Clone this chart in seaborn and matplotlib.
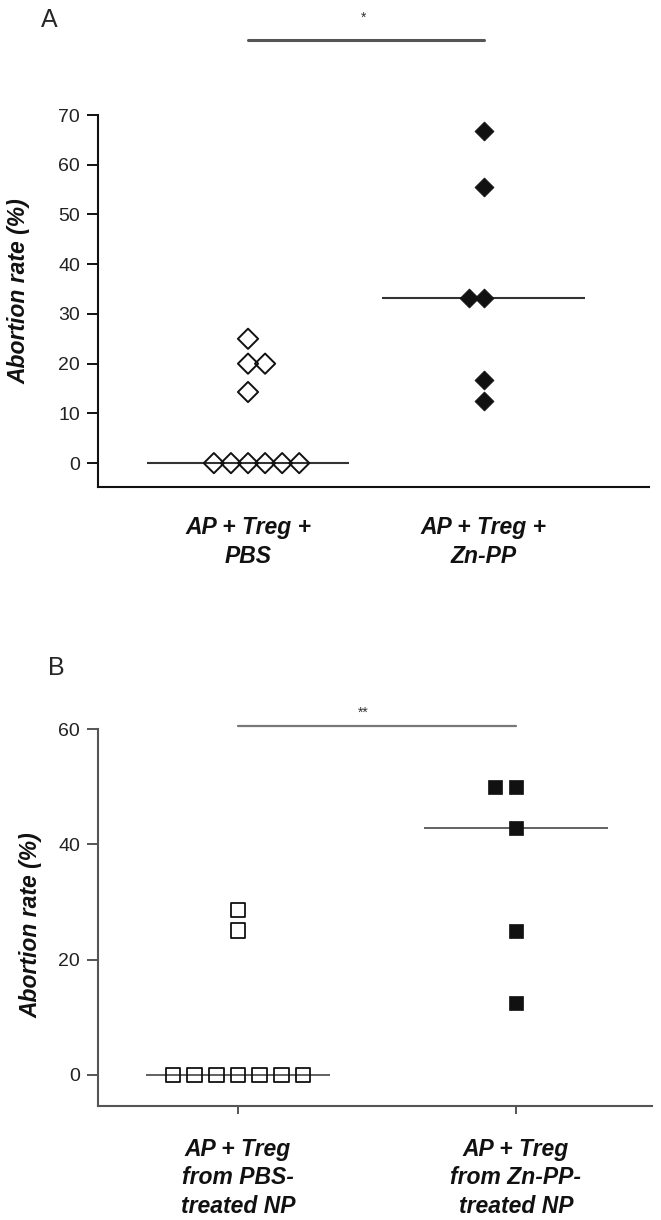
import numpy as np
import pandas as pd
import matplotlib
matplotlib.use("Agg")
import matplotlib.pyplot as plt
import seaborn as sns

# panel A: abortion rate (%) per mouse
groups_a = ["AP + Treg +\nPBS", "AP + Treg +\nZn-PP"]
pbs_a = [25, 20, 20, 14.3, 0, 0, 0, 0, 0, 0]
znpp_a = [66.7, 55.6, 33.3, 33.3, 16.7, 12.5]
yticks_a = [0, 10, 20, 30, 40, 50, 60, 70]

# panel B: abortion rate (%) per mouse
groups_b = ["AP + Treg\nfrom PBS-\ntreated NP", "AP + Treg\nfrom Zn-PP-\ntreated NP"]
pbs_b = [28.6, 25, 0, 0, 0, 0, 0, 0, 0]
znpp_b = [50, 50, 42.9, 25, 12.5]
yticks_b = [0, 20, 40, 60]

sns.set_theme(style="ticks")
plt.rcParams["font.family"] = ["Liberation Sans", "DejaVu Sans"]

W, H = 661, 1220
fig = plt.figure(figsize=(W / 100, H / 100), dpi=100)
ax_a = fig.add_axes([98 / W, 1 - 487 / H, 551 / W, 372 / H])
ax_b = fig.add_axes([98 / W, 1 - 1106 / H, 554 / W, 377 / H])


def swarm(ax, df, groups, **kws):
    n = len(ax.collections)
    sns.swarmplot(data=df, x="group", y="rate", order=groups, ax=ax, **kws)
    new = [c for c in ax.collections[n:] if len(c.get_offsets()) > 0]
    return new[0]


def draw_panel(ax, groups, open_vals, filled_vals, marker, sizes, open_lw,
               xlim, ylim, yticks, spine_color):
    df_open = pd.DataFrame({"group": groups[0], "rate": open_vals})
    df_fill = pd.DataFrame({"group": groups[1], "rate": filled_vals})
    pts_open = swarm(ax, df_open, groups, marker=marker, size=sizes[0],
                     color="#111111", edgecolor="#111111", linewidth=open_lw)
    pts_fill = swarm(ax, df_fill, groups, marker=marker, size=sizes[1],
                     color="#111111", edgecolor="#111111", linewidth=0.5)

    ax.set_xlim(*xlim)
    ax.set_ylim(*ylim)
    ax.set_yticks(yticks)
    ax.set_xlabel("")
    ax.set_ylabel("Abortion rate (%)", fontsize=16.5, fontweight="bold",
                  fontstyle="italic", color="#111111")
    ax.set_xticks([0, 1], labels=groups, fontsize=16.5, fontweight="bold",
                  fontstyle="italic", color="#111111", linespacing=1.3)
    sns.despine(ax=ax)
    for side in ["left", "bottom"]:
        ax.spines[side].set_linewidth(1.5)
        ax.spines[side].set_color(spine_color)
    ax.tick_params(axis="y", length=8, width=1.4, pad=5, labelsize=14,
                   labelcolor="#222222", color=spine_color)
    return pts_open, pts_fill


open_a, fill_a = draw_panel(ax_a, groups_a, pbs_a, znpp_a, "D", (10.3, 9.7),
                            1.4, (-0.636, 1.70), (-4.8, 70), yticks_a,
                            "#111111")
ax_a.tick_params(axis="x", length=0, pad=21)
ax_a.yaxis.set_label_coords(-0.123, 0.527)
for i, vals in enumerate([pbs_a, znpp_a]):
    ax_a.hlines(np.median(vals), i - 0.43, i + 0.43, color="#333333",
                lw=1.5, zorder=2)
ax_a.plot([0, 1], [85, 85], color="#555555", lw=2.2, clip_on=False)
ax_a.text(0.49, 89.5, "*", ha="center", va="center", fontsize=10,
          color="#333333")

open_b, fill_b = draw_panel(ax_b, groups_b, pbs_b, znpp_b, "s", (10.6, 10.3),
                            1.3, (-0.504, 1.49), (-5.4, 60), yticks_b,
                            "#555555")
ax_b.tick_params(axis="x", length=6, width=1.4, pad=17, color="#555555")
ax_b.yaxis.set_label_coords(-0.101, 0.48)
for i, vals in enumerate([pbs_b, znpp_b]):
    ax_b.hlines(np.median(vals), i - 0.33, i + 0.33, color="#555555",
                lw=1.3, zorder=2)
ax_b.plot([0, 1], [60.5, 60.5], color="#777777", lw=1.6, clip_on=False)
ax_b.text(0.45, 62.8, "**", ha="center", va="center", fontsize=10,
          color="#333333")

# let seaborn place the swarms once, then freeze them
fig.canvas.draw()
for coll, spread in [(open_a, 1.0), (fill_a, 1.0), (open_b, 1.25), (fill_b, 1.3)]:
    off = np.array(coll.get_offsets())
    centre = np.round(off[:, 0])
    off[:, 0] = centre + (off[:, 0] - centre) * spread
    if "draw" in vars(coll):
        del coll.draw
    coll.set_offsets(off)

# open symbols for the PBS groups
for coll in [open_a, open_b]:
    coll.set_array(None)
    coll.set_facecolor("none")
    coll.set_edgecolor("#111111")

fig.text(49 / W, 1 - 20 / H, "A", fontsize=18, ha="center", va="center")
fig.text(56 / W, 1 - 668 / H, "B", fontsize=18, ha="center", va="center")

fig.savefig("out.png", dpi=100)
